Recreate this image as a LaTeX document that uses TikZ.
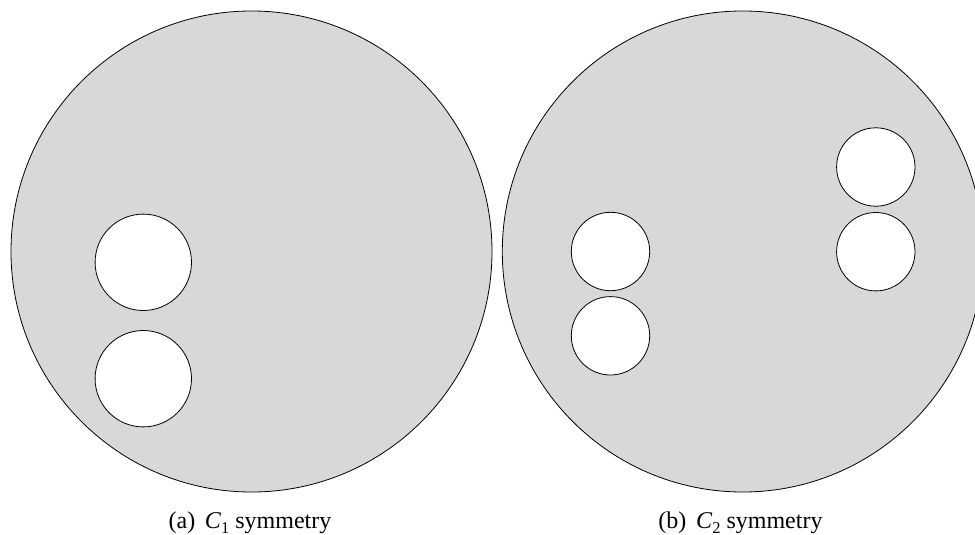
\documentclass[tikz,border=0pt]{standalone}
\usepackage{fontspec}
\setmainfont{Liberation Serif}
\definecolor{plate}{RGB}{216,216,216}
\tikzset{
  plateshape/.style={draw=black, line width=0.8pt, fill=plate},
  hole/.style={draw=black, line width=0.8pt, fill=white},
  captiontext/.style={anchor=base, inner sep=0pt, font=\fontsize{24}{28}\selectfont}
}
\newcommand{\symlabel}[2]{(#1)\hspace{0.4em}\textit{C}\raisebox{-0.22em}{\fontsize{16.5}{18}\selectfont #2} symmetry}
\begin{document}
\begin{tikzpicture}[x=1pt,y=-1pt]
\useasboundingbox (0,0) rectangle (975,535);
% (a) C1
\coordinate (ca) at (251.5,251.5);
\draw[plateshape] (ca) circle[radius=240.5];
\coordinate (a1) at (143.3,262.3);
\coordinate (a2) at (143.3,378.7);
\draw[hole] (a1) circle[radius=48.2];
\draw[hole] (a2) circle[radius=48.2];
\node[captiontext] (capa) at (250,528) {\symlabel{a}{1}};
% (b) C2
\coordinate (cb) at (742.8,251.5);
\draw[plateshape] (cb) circle[radius=240.5];
\coordinate (b1) at (610.5,251.5);
\coordinate (b2) at (610.5,335.8);
\coordinate (b3) at (875.8,167.0);
\coordinate (b4) at (875.8,251.7);
\foreach \h in {b1,b2,b3,b4} \draw[hole] (\h) circle[radius=39.2];
\node[captiontext] (capb) at (740.5,528) {\symlabel{b}{2}};
\end{tikzpicture}
\end{document}
